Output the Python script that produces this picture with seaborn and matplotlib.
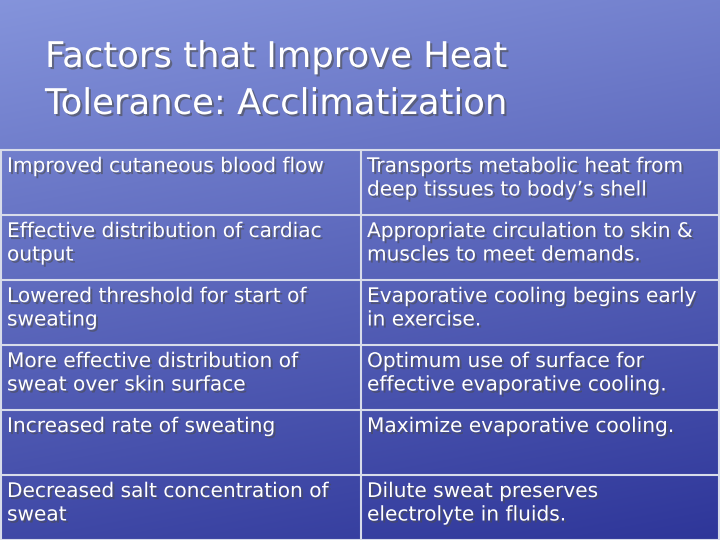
import numpy as np
import seaborn as sns
import matplotlib.pyplot as plt
import matplotlib.patheffects as pe

sns.set_theme(style="white")
plt.rcParams['font.family'] = ['DejaVu Sans']

title_lines = ["Factors that Improve Heat", "Tolerance: Acclimatization"]
factors = ["Improved cutaneous blood flow",
           "Effective distribution of cardiac\noutput",
           "Lowered threshold for start of\nsweating",
           "More effective distribution of\nsweat over skin surface",
           "Increased rate of sweating",
           "Decreased salt concentration of\nsweat"]
effects = ["Transports metabolic heat from\ndeep tissues to body\u2019s shell",
           "Appropriate circulation to skin &\nmuscles to meet demands.",
           "Evaporative cooling begins early\nin exercise.",
           "Optimum use of surface for\neffective evaporative cooling.",
           "Maximize evaporative cooling.",
           "Dilute sweat preserves\nelectrolyte in fluids."]

fig = plt.figure(figsize=(7.2, 5.4), dpi=100)
ax = fig.add_axes([0, 0, 1, 1])
ax.set_xlim(0, 720)
ax.set_ylim(540, 0)
ax.axis('off')

# background gradient
yy, xx = np.mgrid[0:540, 0:720]
g = 1 - (yy / 540) * 0.8 - (xx / 720) * 0.2
c0 = np.array([0.18, 0.21, 0.60])
c1 = np.array([0.52, 0.58, 0.86])
img = c0 + (c1 - c0) * np.clip(g, 0, 1)[..., None]
ax.imshow(img, extent=[0, 720, 540, 0], aspect='auto', zorder=0)

shadow = [pe.withSimplePatchShadow(offset=(1.5, -1.5), alpha=0.6)]
for i, line in enumerate(title_lines):
    ax.text(45, 57 + i * 47, line, fontsize=25.5, color='white', va='center',
            path_effects=shadow)

top, rh, split = 150, 65, 361
for i, (f, e) in enumerate(zip(factors, effects)):
    y = top + i * rh
    ax.text(7, y + 7, f, fontsize=14.5, color='white', va='top',
            linespacing=1.3, path_effects=shadow)
    ax.text(367, y + 7, e, fontsize=14.5, color='white', va='top',
            linespacing=1.3, path_effects=shadow)

lc = '#d8dcea'
for i in range(7):
    ax.plot([0, 720], [top + i * rh] * 2, color=lc, lw=1.5, zorder=3)
for x in [1, split, 718.5]:
    ax.plot([x, x], [top, 540], color=lc, lw=1.5, zorder=3)

fig.savefig("out.png", dpi=100)
